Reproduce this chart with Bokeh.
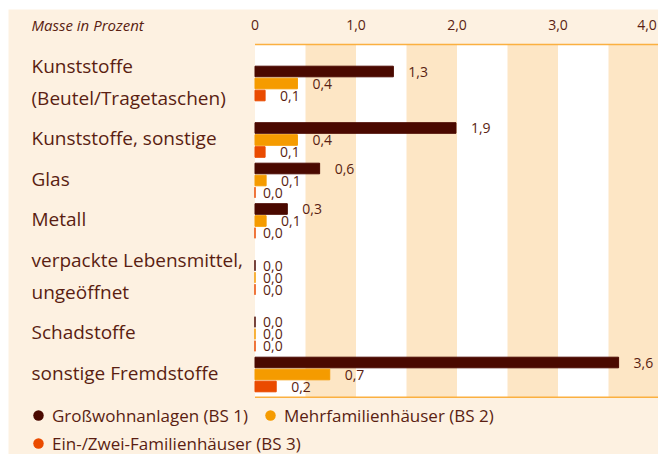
import math
from bokeh.plotting import figure
from bokeh.models import ColumnDataSource, Range1d
from bokeh.core.properties import value
from bokeh.embed import file_html
from bokeh.resources import INLINE

# ---------------- data ----------------
categories = [
    "Kunststoffe\n(Beutel/Tragetaschen)",
    "Kunststoffe, sonstige",
    "Glas",
    "Metall",
    "verpackte Lebensmittel,\nungeöffnet",
    "Schadstoffe",
    "sonstige Fremdstoffe",
]
series_names = ["Großwohnanlagen (BS 1)", "Mehrfamilienhäuser (BS 2)", "Ein-/Zwei-Familienhäuser (BS 3)"]
bs1 = [1.37, 1.99, 0.64, 0.32, 0.0, 0.0, 3.60]
bs2 = [0.42, 0.42, 0.11, 0.11, 0.0, 0.0, 0.74]
bs3 = [0.10, 0.10, 0.0, 0.0, 0.0, 0.0, 0.21]
tick_values = [0, 1, 2, 3, 4]
tick_labels = ["0", "1,0", "2,0", "3,0", "4,0"]
axis_title = "Masse in Prozent"

# ---------------- style / layout ----------------
FONT = "Open Sans"
TXT = "#5a1e12"
CREAM = "#fdf1e1"
STRIPE = "#fde6c5"
ORANGE_LINE = "#fbb040"
COLORS = ["#4a0900", "#f59b00", "#ea4b00"]

W, H = 658, 454
BORDER_L, BORDER_T = 8, 9
FW, FH = W - BORDER_L, H - BORDER_T
ZERO_PX = 246.5       # frame pixel position of value 0
PX_PER_UNIT = 101.0
X_START = -ZERO_PX / PX_PER_UNIT
X_END = (FW - ZERO_PX) / PX_PER_UNIT


def px(xp):
    return X_START + xp / PX_PER_UNIT


PLOT_TOP, PLOT_BOTTOM = 35, 387.7
LINE0, GAP, INNER = 56, 40.5, 32
BAR_H, BAR_STEP, BAR_SHIFT = 10.6, 12, 2

p = figure(width=W, height=H, output_backend="svg", toolbar_location=None,
           x_range=Range1d(X_START, X_END), y_range=Range1d(FH, 0),
           min_border_left=BORDER_L, min_border_top=BORDER_T,
           min_border_right=0, min_border_bottom=0,
           x_axis_location=None, y_axis_location=None)
p.outline_line_color = None
p.background_fill_color = CREAM
p.border_fill_color = "white"
p.grid.grid_line_color = None

# plot area: white with beige stripes every half unit
p.quad(left=0, right=X_END, top=PLOT_TOP, bottom=PLOT_BOTTOM,
       fill_color="white", line_color=None)
stripe_left = [t + 0.5 for t in tick_values[:-1]]
stripe_right = [t + 1.0 for t in tick_values[:-1]]
p.quad(left=stripe_left, right=stripe_right, top=PLOT_TOP, bottom=PLOT_BOTTOM,
       fill_color=STRIPE, line_color=None)
p.segment(x0=[0, 0], x1=[X_END, X_END], y0=[PLOT_TOP, PLOT_BOTTOM], y1=[PLOT_TOP, PLOT_BOTTOM],
          line_color=ORANGE_LINE, line_width=1.5)

# category labels laid out line by line
lab_y, lab_t, centers = [], [], []
y = LINE0
for cat in categories:
    lines = cat.split("\n")
    ys = []
    for j, ln in enumerate(lines):
        if j > 0:
            y += INNER
        ys.append(y)
        lab_y.append(y)
        lab_t.append(ln)
    centers.append(sum(ys) / len(ys))
    y += GAP

p.text(x=[px(23)] * len(lab_t), y=lab_y, text=lab_t, text_font=value(FONT),
       text_font_size="19px", text_color=TXT, text_align="left", text_baseline="middle")


def fmt(v):
    return f"{math.floor(v * 10 + 1e-6) / 10:.1f}".replace(".", ",")


for k, (vals, col) in enumerate(zip([bs1, bs2, bs3], COLORS)):
    ys = [c + (k - 1) * BAR_STEP + BAR_SHIFT for c in centers]
    src = ColumnDataSource(dict(
        y=ys, v=vals, lab=[fmt(v) for v in vals],
        off=[15 if v > 0 else 8 for v in vals]))
    p.hbar(y="y", left=0, right="v", height=BAR_H, source=src,
           fill_color=col, line_color=col, line_width=1)
    p.text(x="v", y="y", text="lab", x_offset="off", source=src, text_font=value(FONT),
           text_font_size="14px", text_color=TXT, text_align="left", text_baseline="middle")

# top tick labels (last one kept inside the edge) and title
tick_src = ColumnDataSource(dict(
    x=tick_values, y=[15] * len(tick_values), t=tick_labels,
    off=[0] * (len(tick_values) - 1) + [-12]))
p.text(x="x", y="y", text="t", x_offset="off", source=tick_src, text_font=value(FONT),
       text_font_size="14px", text_color=TXT, text_align="center", text_baseline="middle")
p.text(x=[px(23)], y=[15], text=[axis_title], text_font=value(FONT), text_font_style="italic",
       text_font_size="15px", text_color=TXT, text_align="left", text_baseline="middle")

# legend
leg_px = [30, 262, 30]
leg_py = [406, 406, 434]
p.scatter(x=[px(v) for v in leg_px], y=leg_py, marker="circle", size=10.5,
          fill_color=COLORS, line_color=None)
p.text(x=[px(v + 13.5) for v in leg_px], y=leg_py, text=series_names, text_font=value(FONT),
       text_font_size="17px", text_color=TXT, text_align="left", text_baseline="middle")

open("out.html", "w").write(file_html(p, INLINE))
